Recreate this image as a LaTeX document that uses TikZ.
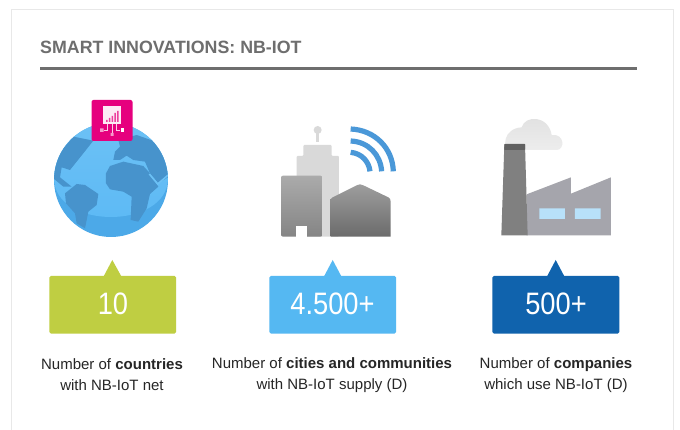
\documentclass[tikz,border=0pt]{standalone}
\usepackage{fontspec}
\setmainfont{Liberation Sans}
\newfontfamily\numfont[FakeStretch=0.88]{Liberation Sans}
\definecolor{titlegray}{HTML}{6E6E6E}
\definecolor{cgreen}{HTML}{BFCE42}
\definecolor{clight}{HTML}{55B8F2}
\definecolor{cdark}{HTML}{1063AD}
\definecolor{land}{HTML}{4793CC}
\definecolor{wave}{HTML}{4A98D8}
\definecolor{magenta}{HTML}{E6007E}
\definecolor{oceantop}{HTML}{6CC1F5}
\definecolor{oceanlow}{HTML}{5CB9F5}
\definecolor{oceanrim}{HTML}{4CA9E8}
\definecolor{wallgray}{HTML}{A5A5AC}
\tikzset{
  numbox/.style={rounded corners=1.5pt,line width=0pt},
  numlabel/.style={text=white,font=\numfont\fontsize{31}{34}\selectfont,anchor=center,inner sep=0pt},
  caption/.style={align=center,font=\fontsize{15}{21}\selectfont,text=black!85,inner sep=0pt},
}
\begin{document}
\begin{tikzpicture}[x=1pt,y=-1pt]
\useasboundingbox (0,0) rectangle (680,430);
\fill[white] (0,0) rectangle (680,430);
\draw[black!9,line width=1pt] (11.5,430) -- (11.5,9.5) -- (673,9.5) -- (673,430);
\node[anchor=west,inner sep=0pt,text=titlegray,font=\bfseries\fontsize{17.8}{20}\selectfont] (title) at (40,47.5) {SMART INNOVATIONS: NB-IOT};
\fill[titlegray] (40,67.5) rectangle (637,70.5);
% globe
\begin{scope}
\clip (111,180) circle (57);
\fill[oceanrim] (54,123) rectangle (168,237);
\shade[top color=oceantop,bottom color=oceanlow] (54,120) -- (168,120) -- (168,178) .. controls (168,230) and (54,230) .. (54,178) -- cycle;
\begin{scope}[shift={(30,90)},x=0.3333pt,y=-0.3333pt]
\fill[land] (70,230) -- (88,190) -- (130,140) -- (190,152) -- (160,190) -- (120,240) -- (95,232) -- (90,262) -- (125,290) -- (100,290) -- (70,265) -- cycle;
\fill[land] (105,310) -- (140,282) -- (165,285) -- (205,312) -- (200,345) -- (175,365) -- (165,415) -- (140,400) -- (135,370) -- (108,340) -- cycle;
\fill[land] (228,250) -- (240,228) -- (280,215) -- (340,228) -- (360,250) -- (385,290) -- (360,312) -- (350,355) -- (325,395) -- (302,390) -- (305,320) -- (280,305) -- (240,298) -- (228,280) -- cycle;
\fill[land] (250,210) -- (255,185) -- (270,170) -- (265,150) -- (320,135) -- (420,170) -- (420,258) -- (385,280) -- (360,250) -- (345,215) -- (310,210) -- (290,197) -- (270,210) -- cycle;
\draw[oceantop,line width=1.6pt] (358,252) -- (383,282) -- (416,254);
\end{scope}
\end{scope}
% badge
\fill[magenta,rounded corners=2pt] (91.5,100) rectangle (132.5,141);
\fill[white!92!magenta] (103,106.5) rectangle (121,124);
\fill[magenta!75!white] (106,120) rectangle (107.5,122) (108.8,118) rectangle (110.3,122) (111.6,116) rectangle (113.1,122) (114.4,113) rectangle (115.9,122) (117.2,111) rectangle (118.7,122);
\draw[white!80!magenta,line width=0.8pt] (112,124) -- (112,133) (107.5,124) -- (107.5,130) -- (104,130) (116.5,124) -- (116.5,130) -- (120,130);
\fill[white!60!magenta] (100,128.5) rectangle (103.5,132) (110.5,133) rectangle (113.5,136);
\fill[white] (120.5,128.5) rectangle (124,132);
% city
\begin{scope}[shift={(260,110)},x=0.3333pt,y=-0.3333pt]
\fill[black!15] (168,95) rectangle (178,60) ;
\fill[black!15] (173,60) circle[radius=4pt];
\fill[black!15,rounded corners=1pt] (110,380) -- (110,138) -- (130,138) -- (130,105) -- (215,105) -- (215,138) -- (237,138) -- (237,380) -- cycle;
\shade[top color=black!33,bottom color=black!48,rounded corners=2pt] (63,380) -- (63,197) -- (187,197) -- (187,380) -- cycle;
\fill[white] (108,348) rectangle (141,381);
\shade[top color=black!38,bottom color=black!58] (212,380) -- (212,268) .. controls (212,265) and (215,263) .. (218,262) -- (290,226) .. controls (296,222) and (304,222) .. (310,226) -- (385,262) .. controls (390,265) and (392,268) .. (392,275) -- (392,380) -- cycle;
\draw[wave,line width=5.2pt] (272,57) .. controls (345,60) and (398,115) .. (400,184);
\draw[wave,line width=5.2pt] (272,93) .. controls (325,95) and (362,135) .. (365,184);
\draw[wave,line width=5.2pt] (272,127) .. controls (305,130) and (327,155) .. (330,184);
\end{scope}
% factory
\begin{scope}[shift={(480,110)},x=0.3333pt,y=-0.3333pt]
\shade[top color=black!12,bottom color=black!7] (90,120) .. controls (65,115) and (70,55) .. (125,52) .. controls (135,15) and (205,15) .. (215,75) .. controls (255,70) and (255,120) .. (230,120) -- cycle;
\fill[wallgray] (140,376) -- (140,253) -- (273,202) -- (273,251) -- (393,202) -- (393,376) -- cycle;
\fill[black!50] (73,103) -- (135,103) -- (143,376) -- (64,376) -- cycle;
\fill[black!62,rounded corners=0.5pt] (73,102) rectangle (135,120);
\fill[clight!42!white] (178,295) rectangle (255,327) (285,295) rectangle (362,327);
\end{scope}
% boxes
\fill[cgreen,numbox] (49.3,276) rectangle (176,333.5);
\fill[cgreen] (103.3,277) -- (112.3,260) -- (121.7,277) -- cycle;
\node[numlabel] (n1) at (113,304) {10};
\fill[clight,numbox] (269.3,276) rectangle (396,333.5);
\fill[clight] (323.7,277) -- (332.7,260) -- (341.7,277) -- cycle;
\node[numlabel] (n2) at (332.5,304) {4.500+};
\fill[cdark,numbox] (492.3,276) rectangle (619.3,333.5);
\fill[cdark] (546.7,277) -- (555.7,260) -- (564.7,277) -- cycle;
\node[numlabel] (n3) at (556,304) {500+};
\node[caption] (c1) at (112,375) {Number of \textbf{countries}\\with NB-IoT net};
\node[caption] (c2) at (332,375) {Number of \textbf{cities and communities}\\with NB-IoT supply (D)};
\node[caption] (c3) at (556,375) {Number of \textbf{companies}\\which use NB-IoT (D)};
\end{tikzpicture}
\end{document}
